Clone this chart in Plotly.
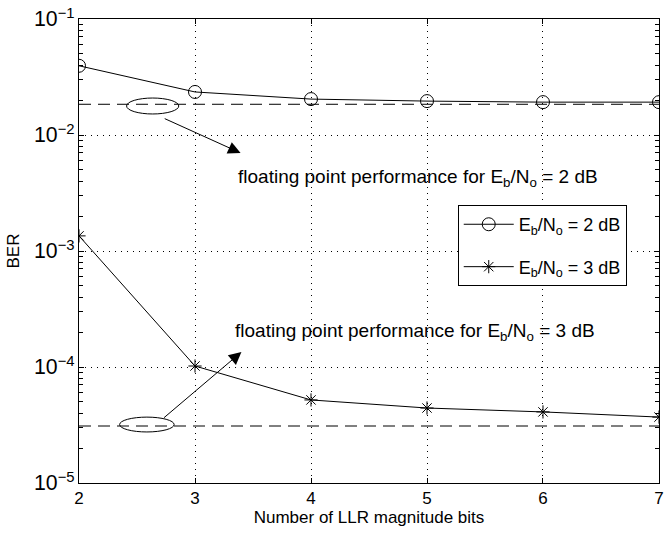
import plotly.graph_objects as go

bits = [2, 3, 4, 5, 6, 7]
ber_2db = [0.0395, 0.0235, 0.0204, 0.0196, 0.0192, 0.0192]
ber_3db = [1.35e-3, 1.02e-4, 5.2e-5, 4.43e-5, 4.1e-5, 3.7e-5]
float_2db = 0.0184
float_3db = 3.1e-5
x_range = [2, 7]

FONT = "Liberation Sans, Arial, sans-serif"

fig = go.Figure()
fig.add_trace(go.Scatter(x=x_range, y=[float_2db, float_2db], mode="lines",
                         line=dict(color="black", width=1, dash="12px,7px"),
                         showlegend=False, hoverinfo="skip"))
fig.add_trace(go.Scatter(x=x_range, y=[float_3db, float_3db], mode="lines",
                         line=dict(color="black", width=1, dash="12px,7px"),
                         showlegend=False, hoverinfo="skip"))
fig.add_trace(go.Scatter(x=bits, y=ber_2db, mode="lines+markers",
                         name="E<sub>b</sub>/N<sub>o</sub> = 2 dB", legendgroup="a",
                         line=dict(color="black", width=1),
                         marker=dict(symbol="circle-open", size=13, color="black",
                                     line=dict(width=1))))
fig.add_trace(go.Scatter(x=bits, y=ber_3db, mode="lines+markers",
                         name="E<sub>b</sub>/N<sub>o</sub> = 3 dB", legendgroup="b",
                         line=dict(color="black", width=1),
                         marker=dict(symbol="asterisk-open", size=11, color="black",
                                     line=dict(width=1))))

# ellipses (paper y coordinates)
fig.add_shape(type="circle", xref="x", yref="paper", x0=2.41, x1=2.86,
              y0=0.7953, y1=0.8297, line=dict(color="black", width=1))
fig.add_shape(type="circle", xref="x", yref="paper", x0=2.35, x1=2.82,
              y0=0.110, y1=0.142, line=dict(color="black", width=1))

# arrows (annotation y in log units)
fig.add_annotation(x=3.393, y=-2.155, ax=2.726, ay=-1.853, xref="x", yref="y",
                   axref="x", ayref="y", text="", showarrow=True, arrowhead=2,
                   arrowsize=2.5, arrowwidth=1, arrowcolor="black")
fig.add_annotation(x=3.40, y=-3.871, ax=2.72, ay=-4.448, xref="x", yref="y",
                   axref="x", ayref="y", text="", showarrow=True, arrowhead=2,
                   arrowsize=2.5, arrowwidth=1, arrowcolor="black")
fig.add_annotation(x=3.35, y=-2.371, xref="x", yref="y", xanchor="left", yanchor="middle",
                   text="floating point performance for E<sub>b</sub>/N<sub>o</sub> = 2 dB",
                   showarrow=False, font=dict(family=FONT, size=19, color="black"))
fig.add_annotation(x=3.33, y=-3.698, xref="x", yref="y", xanchor="left", yanchor="middle",
                   text="floating point performance for E<sub>b</sub>/N<sub>o</sub> = 3 dB",
                   showarrow=False, font=dict(family=FONT, size=19, color="black"))

fig.update_layout(
    width=667, height=534,
    margin=dict(l=79, r=3, t=19, b=51),
    paper_bgcolor="white", plot_bgcolor="white",
    font=dict(family=FONT, color="black", size=17),
    legend=dict(x=0.653, y=0.599, xanchor="left", yanchor="top",
                bordercolor="black", borderwidth=1, bgcolor="white",
                font=dict(family=FONT, size=18), itemwidth=50,
                tracegroupgap=16),
    xaxis=dict(range=[1.9999, 7.0001], tickvals=bits, showline=True, linecolor="black",
               linewidth=1, mirror="allticks", ticks="inside", ticklen=5,
               tickcolor="black", showgrid=True, gridcolor="black", griddash="1px,5px",
               gridwidth=1, zeroline=False, tickfont=dict(size=17),
               ticklabeloverflow="allow",
               title=dict(text="Number of LLR magnitude bits", font=dict(size=17), standoff=2)),
    yaxis=dict(type="log", range=[-5, -1], dtick=1, exponentformat="power",
               showline=True, linecolor="black", linewidth=1, mirror="allticks",
               ticks="inside", ticklen=5, tickcolor="black",
               showgrid=True, gridcolor="black", griddash="1px,5px", gridwidth=1,
               zeroline=False, tickfont=dict(size=17),
               minor=dict(dtick="D1", ticks="inside", ticklen=4, tickcolor="black",
                          tickwidth=1, showgrid=False),
               title=dict(text="BER", font=dict(size=17), standoff=10)),
)

fig.write_html("out.html")
